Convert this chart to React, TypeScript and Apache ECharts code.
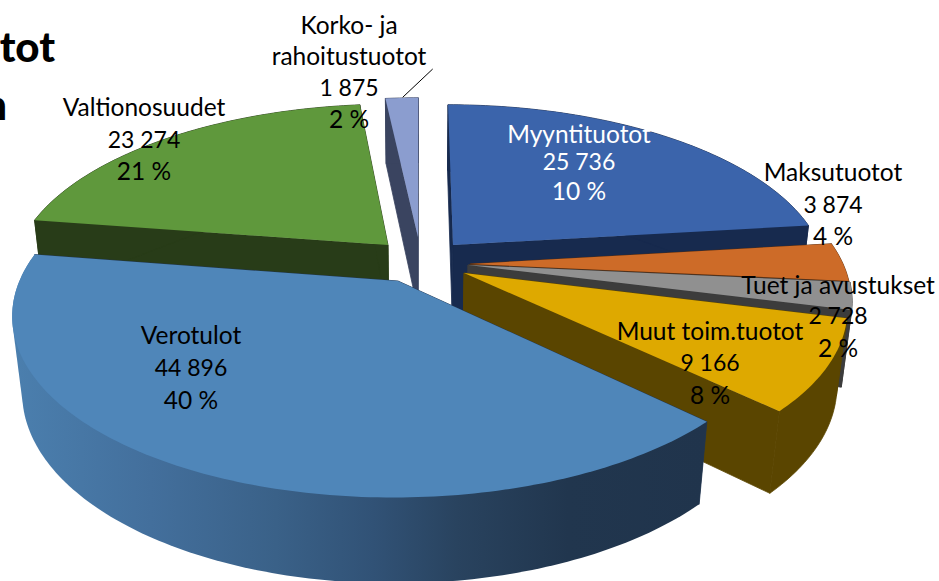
import React, { useEffect, useRef } from "react";
import * as echarts from "echarts";

// ---- data ----
const names = ["Myyntituotot", "Maksutuotot", "Tuet ja avustukset", "Muut toim.tuotot", "Verotulot", "Valtionosuudet", "Korko- ja\nrahoitustuotot"];
const values = [25736, 3874, 2728, 9166, 44896, 23274, 1875];
const valueLabels = ["25 736", "3 874", "2 728", "9 166", "44 896", "23 274", "1 875"];
const percentLabels = ["10 %", "4 %", "2 %", "8 %", "40 %", "21 %", "2 %"];

// ---- styles / layout ----
const topColors = ["#3b64ab", "#cd6b28", "#909090", "#dea900", "#4f86b9", "#5f983c", "#8b9dcf"];
const sideColors = ["#172a4e", "#5c2e0e", "#3c3c3c", "#5a4500", "#223650", "#283c18", "#3a4460"];
const apexes = [[453, 245], [470, 264], [468, 265], [464, 273], [398, 281], [388, 245], [418, 237]];
const radii = [0.99, 0.988, 0.995, 0.985, 0.985, 0.995, 1];
const labelX = [579, 833, 838, 710, 191, 144, 349];
const labelY = [[133, 161, 190], [171, 204, 235], [284, 315, 347], [330, 362, 394], [334, 367, 399], [106, 139, 170], [24, 55, 87, 118]];
const labelFill = ["#ffffff", "#000", "#000", "#000", "#000", "#000", "#000"];
const paintOrder = [0, 6, 5, 1, 2, 3, 4];

const cx = 420, R = 380, A = 960, hy = -690, k = 0.183, m = 0.024, D = 100;
const FONT = "Lato, sans-serif";

function proj(X: number, Y: number, h: number): number[] {
  const s = 1 / (1 - k * Y + m * h);
  return [cx + R * X * s, hy + (A + D * h) * s];
}
const total = values.reduce((a, b) => a + b, 0);
const starts: number[] = [];
values.reduce((acc, v, i) => { starts[i] = acc; return acc + v; }, 0);

function slicePoints(i: number) {
  const a0 = (starts[i] / total) * 2 * Math.PI;
  const a1 = ((starts[i] + values[i]) / total) * 2 * Math.PI;
  const w0 = (apexes[i][1] - hy) / A;
  const Y0 = (1 - 1 / w0) / k;
  const X0 = (apexes[i][0] - cx) / (R * w0);
  const n = Math.max(4, Math.ceil(((a1 - a0) * 180) / Math.PI));
  const r = radii[i];
  const rim = (h: number) => {
    const out: number[][] = [];
    for (let j = 0; j <= n; j++) {
      const a = a0 + ((a1 - a0) * j) / n;
      out.push(proj(X0 + r * Math.sin(a), Y0 - r * Math.cos(a), h));
    }
    return out;
  };
  return { apexTop: proj(X0, Y0, 0), apexBottom: proj(X0, Y0, 1), top: rim(0), bottom: rim(1) };
}

function hull(points: number[][]): number[][] {
  const pts = [...points].sort((a, b) => a[0] - b[0] || a[1] - b[1]);
  const cross = (o: number[], a: number[], b: number[]) => (a[0] - o[0]) * (b[1] - o[1]) - (a[1] - o[1]) * (b[0] - o[0]);
  const lower: number[][] = [];
  for (const p of pts) {
    while (lower.length >= 2 && cross(lower[lower.length - 2], lower[lower.length - 1], p) <= 0) lower.pop();
    lower.push(p);
  }
  const upper: number[][] = [];
  for (let i = pts.length - 1; i >= 0; i--) {
    const p = pts[i];
    while (upper.length >= 2 && cross(upper[upper.length - 2], upper[upper.length - 1], p) <= 0) upper.pop();
    upper.push(p);
  }
  return lower.slice(0, -1).concat(upper.slice(0, -1));
}

function renderSlice(params: any) {
  const i = paintOrder[params.dataIndex];
  const p = slicePoints(i);
  const n = p.top.length - 1;
  const side = sideColors[i];
  const isGradient = i === 4;
  const rimFill = isGradient
    ? new echarts.graphic.LinearGradient(0, 0, 1, 0, [
        { offset: 0, color: "#4b7fae" },
        { offset: 0.2, color: "#436f9c" },
        { offset: 0.38, color: "#3a6188" },
        { offset: 0.52, color: "#315276" },
        { offset: 0.64, color: "#29435f" },
        { offset: 0.8, color: "#21364e" },
        { offset: 1, color: "#20344c" },
      ])
    : side;
  const poly = (points: number[][], fill: any, stroke: any) => ({
    type: "polygon",
    shape: { points },
    style: { fill, stroke, lineWidth: stroke ? 0.8 : 0 },
  });
  return {
    type: "group",
    children: [
      poly([p.apexTop, p.top[0], p.bottom[0], p.apexBottom], side, side),
      poly([p.apexTop, p.top[n], p.bottom[n], p.apexBottom], side, side),
      poly(hull([...p.top, ...p.bottom]), rimFill, isGradient ? null : side),
      poly([p.apexTop, ...p.top], topColors[i], null),
    ],
  };
}

function renderLabel(params: any) {
  const i = params.dataIndex;
  const nameLines = names[i].split("\n");
  const lines = [...nameLines, valueLabels[i], percentLabels[i]];
  return {
    type: "group",
    children: lines.map((t, j) => ({
      type: "text",
      x: labelX[i],
      y: labelY[i][j],
      style: {
        text: t,
        fill: labelFill[i],
        font: j === nameLines.length ? `400 23px ${FONT}` : `400 24.5px ${FONT}`,
        align: "center",
        verticalAlign: "middle",
      },
    })),
  };
}

export default function App() {
  const ref = useRef<HTMLDivElement>(null);
  useEffect(() => {
    document.body.style.margin = "0";
    document.body.style.overflow = "hidden";
    const chart = echarts.init(ref.current!, undefined, { renderer: "svg" });
    chart.setOption({
      animation: false,
      backgroundColor: "#ffffff",
      graphic: [
        { type: "text", x: 55, y: 46, z: 20, style: { text: "tot", font: `900 42px ${FONT}`, fill: "#000", align: "right", verticalAlign: "middle" } },
        { type: "text", x: 7, y: 104, z: 20, style: { text: "n", font: `900 42px ${FONT}`, fill: "#000", align: "right", verticalAlign: "middle" } },
        { type: "line", z: 20, shape: { x1: 432.7, y1: 69, x2: 402.7, y2: 97.3 }, style: { stroke: "#000", lineWidth: 1 } },
      ],
      series: [
        {
          type: "custom",
          coordinateSystem: "none",
          silent: true,
          z: 2,
          renderItem: renderSlice,
          data: paintOrder.map((i) => ({ name: names[i], value: values[i] })),
        },
        {
          type: "custom",
          coordinateSystem: "none",
          silent: true,
          z: 10,
          renderItem: renderLabel,
          data: names.map((n, i) => ({ name: n, value: values[i] })),
        },
      ],
    });
    return () => chart.dispose();
  }, []);
  return <div ref={ref} style={{ width: 939, height: 581 }} />;
}
